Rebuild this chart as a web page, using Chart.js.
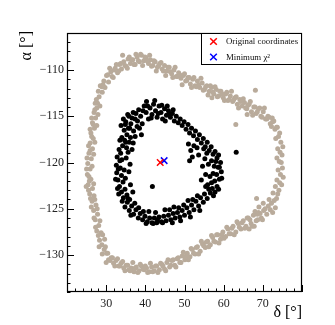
<!DOCTYPE html>
<html><head><meta charset="utf-8">
<script src="https://cdn.jsdelivr.net/npm/chart.js@4/dist/chart.umd.min.js"></script>
<style>html,body{margin:0;padding:0;background:#fff}canvas{display:block}</style>
</head><body>
<canvas id="c" width="335" height="325"></canvas>
<script>
// ---------- data ----------
const outerRing = [
[28.2,-112.9],[27.8,-113.6],[28.9,-111.8],[29.4,-111.2],[29.0,-112.4],[30.1,-110.6],[30.6,-111.3],[31.2,-110.2],[31.8,-110.8],[32.3,-109.8],
[32.9,-110.3],[33.4,-109.4],[33.9,-109.9],[34.5,-109.1],[35.1,-109.6],[35.6,-108.8],[36.2,-109.3],[36.8,-108.9],[37.4,-109.4],[37.9,-108.6],
[38.5,-109.1],[39.0,-108.4],[39.6,-109.0],[40.2,-108.7],[40.8,-109.3],[41.3,-108.9],[41.9,-109.5],[42.5,-109.1],[43.1,-109.7],[43.7,-109.3],
[44.3,-109.9],[44.9,-109.5],[45.5,-110.1],[46.1,-109.7],[46.7,-110.4],[47.3,-110.0],[47.9,-110.7],[48.5,-110.3],[49.1,-110.9],[49.7,-110.6],
[50.3,-111.2],[50.9,-110.8],[51.5,-111.5],[52.1,-111.0],[52.7,-111.7],[53.3,-111.2],[53.9,-111.9],[54.5,-111.4],[55.1,-112.1],[55.7,-111.7],
[56.3,-112.3],[56.9,-111.9],[57.5,-112.6],[58.1,-112.1],[58.7,-112.8],[59.3,-112.3],[59.9,-113.0],[60.5,-112.6],[61.1,-113.3],[61.7,-112.8],
[62.3,-113.4],[62.9,-113.0],[63.5,-113.7],[64.1,-113.2],[64.7,-113.9],[65.3,-113.5],[65.9,-114.2],[66.5,-113.7],[67.1,-114.5],[67.7,-114.0],
[68.3,-114.7],[68.9,-114.2],[69.5,-115.0],[70.1,-114.5],[70.7,-115.3],[71.3,-115.0],[71.9,-115.8],[72.5,-115.6],[73.1,-116.4],[73.7,-116.2],
[74.3,-116.8],[68.1,-112.2],[63.1,-115.9],[72.4,-115.2],[66.0,-114.8],[57.0,-113.0],
[28.5,-111.7],[29.2,-111.6],[29.7,-111.9],[30.4,-110.5],[30.9,-109.8],[31.5,-110.7],[32.1,-110.0],[32.6,-109.4],[33.2,-110.1],[33.7,-109.3],
[34.2,-108.4],[34.8,-109.5],[35.4,-109.8],[35.9,-108.6],[36.5,-108.9],[37.1,-109.4],[37.6,-108.3],[38.2,-109.0],[38.8,-108.3],[39.3,-109.5],
[39.9,-108.6],[40.5,-109.0],[41.1,-108.4],[41.6,-109.6],[42.2,-109.0],[42.8,-110.1],[43.4,-109.5],[44.0,-109.2],[44.6,-110.1],[45.2,-110.6],
[45.8,-109.7],[46.4,-110.2],[47.0,-110.8],[47.6,-109.7],[48.2,-110.7],[48.8,-110.5],[49.4,-111.6],[50.0,-110.4],[50.6,-111.1],[51.2,-110.8],
[51.8,-111.9],[52.4,-110.8],[53.0,-111.8],[53.6,-111.6],[54.2,-110.9],[54.8,-112.2],[55.4,-111.8],[56.0,-112.7],[56.6,-111.7],[57.2,-112.4],
[57.8,-111.8],[58.4,-112.9],[59.0,-112.3],[59.6,-112.6],[60.2,-113.3],[60.8,-112.4],[61.4,-113.2],[62.0,-112.3],[62.6,-113.2],[63.2,-112.9],
[63.8,-114.1],[64.4,-113.4],[65.0,-113.1],[65.6,-114.1],[66.2,-113.8],[66.8,-113.4],[67.4,-114.9],[68.0,-114.0],[68.6,-114.5],[69.2,-114.1],
[69.8,-115.1],[70.4,-114.1],[71.0,-115.3],[71.6,-115.1],[72.2,-116.1],[72.8,-115.5],[73.5,-116.2],
[73.3,-117.4],[74.6,-117.8],[73.8,-118.5],[74.9,-119.2],[74.2,-119.9],[75.0,-120.6],[74.5,-121.3],[73.6,-121.9],[74.8,-122.4],[74.1,-123.0],
[72.6,-123.3],[73.5,-123.9],[72.2,-124.4],[73.2,-124.9],[71.4,-124.7],[72.5,-125.4],
[74.0,-117.2],[75.1,-118.3],[74.4,-118.9],[73.6,-119.5],[74.7,-120.0],[73.9,-120.8],[75.2,-121.6],[74.3,-122.2],[73.2,-122.6],[73.8,-123.4],
[72.9,-124.1],[71.9,-125.1],[71.6,-124.0],
[71.0,-125.6],[70.2,-125.2],[69.6,-126.0],[68.9,-125.4],[68.3,-126.3],[67.6,-125.7],[67.0,-126.6],[66.3,-126.0],[65.7,-126.9],[65.0,-126.3],
[64.4,-127.2],[63.7,-126.6],[63.1,-127.5],[62.4,-126.9],[61.8,-127.7],[61.1,-127.2],[60.5,-128.0],[59.8,-127.5],[59.2,-128.3],[58.5,-127.8],
[57.9,-128.6],[57.2,-128.1],[56.6,-128.9],[55.9,-128.5],[55.3,-129.2],[54.6,-128.8],[54.0,-129.6],[53.3,-129.1],[52.7,-129.9],[52.0,-129.4],
[51.4,-130.2],[50.7,-129.8],[50.1,-130.5],[49.4,-130.1],[48.8,-130.8],[48.1,-130.4],[47.5,-131.1],[46.8,-130.6],[46.2,-131.3],[45.5,-130.8],
[44.9,-131.5],[44.2,-131.0],[43.6,-131.6],[42.9,-131.2],[42.3,-131.7],[41.6,-131.3],[41.0,-131.8],[40.3,-131.4],[39.7,-131.6],[39.0,-131.2],
[38.4,-131.7],[37.7,-131.3],[37.1,-131.8],[36.4,-131.4],[35.8,-131.6],[35.1,-131.1],[34.5,-131.4],[33.8,-130.9],[33.2,-131.2],[32.5,-130.6],
[31.9,-130.9],[31.3,-130.3],[30.6,-130.5],[30.1,-129.8],
[70.6,-125.0],[69.9,-126.2],[69.3,-125.5],[68.7,-126.2],[68.0,-125.3],[67.3,-126.9],[66.7,-126.2],[66.0,-126.0],[65.4,-127.1],[64.7,-126.5],
[64.0,-127.0],[63.4,-126.4],[62.7,-127.8],[62.1,-127.1],[61.4,-127.7],[60.8,-127.0],[60.1,-128.2],[59.5,-127.8],[58.8,-128.7],[58.2,-127.8],
[57.5,-128.5],[56.9,-127.9],[56.2,-129.1],[55.6,-128.6],[54.9,-129.0],[54.3,-128.5],[53.6,-129.9],[53.0,-129.2],[52.3,-129.8],[51.7,-129.3],
[51.0,-130.5],[50.4,-130.1],[49.7,-129.7],[49.1,-130.8],[48.4,-130.3],[47.8,-131.3],[47.1,-130.5],[46.5,-131.1],[45.8,-130.5],[45.2,-131.7],
[44.5,-131.2],[43.9,-130.9],[43.2,-131.9],[42.6,-131.2],[41.9,-131.8],[41.3,-130.9],[40.6,-131.9],[40.0,-131.2],[39.4,-131.5],[38.7,-131.0],
[38.1,-131.9],[37.4,-131.4],[36.8,-130.8],[36.1,-131.7],[35.5,-131.1],[34.8,-131.7],[34.2,-130.7],[33.5,-131.2],[32.9,-130.4],[32.2,-131.2],
[31.6,-130.3],[31.0,-130.6],[30.4,-129.8],[29.0,-129.9],[30.0,-130.8],[29.8,-129.1],
[68.4,-123.9],[69.0,-124.8],[68.6,-125.6],[70.1,-124.4],[67.8,-126.9],[66.5,-127.2],
[29.5,-129.4],[28.9,-128.9],[29.6,-128.3],[28.3,-128.4],[28.7,-127.6],[27.6,-127.4],[28.1,-126.8],[27.2,-126.2],[27.8,-125.6],[26.8,-125.2],
[27.4,-124.6],[26.4,-124.2],[26.9,-123.6],[25.8,-123.4],[26.5,-122.8],[25.4,-122.4],[26.1,-121.8],[25.2,-121.3],[25.9,-120.7],[25.3,-120.1],
[26.2,-119.6],[25.6,-119.0],[26.5,-118.5],[25.9,-117.9],[26.7,-117.4],[26.1,-116.8],[27.0,-116.3],[26.5,-115.7],[27.3,-115.2],[26.9,-114.6],
[27.6,-114.1],[27.2,-113.6],
[28.2,-129.1],[29.1,-127.8],[28.0,-127.9],[27.3,-127.0],[28.4,-126.3],[26.9,-126.0],[27.7,-125.0],[26.2,-124.8],[27.1,-124.0],[26.0,-123.9],
[25.5,-123.0],[26.8,-122.3],[24.9,-122.6],[25.7,-122.0],[25.0,-120.7],[26.4,-120.4],[25.6,-121.5],[25.1,-119.5],[25.9,-118.7],[26.8,-119.1],
[25.5,-118.2],[26.3,-117.2],[27.1,-117.8],[25.9,-116.4],[26.7,-115.9],[27.6,-116.0],[26.3,-115.2],[27.1,-114.3],[27.9,-114.8],[27.5,-113.2],
[28.4,-113.9],[28.0,-112.3]
];
const innerRing = [
[35.0,-115.6],[35.8,-115.0],[36.3,-115.8],[36.9,-114.6],[37.4,-115.3],[37.9,-116.1],[38.3,-114.3],[38.8,-115.0],[39.2,-115.8],[39.7,-113.9],
[40.2,-114.6],[40.3,-113.4],[40.8,-115.3],[41.2,-114.1],[41.7,-114.8],[42.1,-113.7],[42.6,-114.4],[43.0,-115.1],[43.5,-113.9],[44.0,-114.6],
[44.4,-115.3],[44.9,-114.2],[45.4,-114.9],[45.9,-114.4],[46.4,-115.1],[46.9,-114.7],[47.4,-115.5],[47.9,-115.0],[48.4,-115.7],[48.9,-115.3],
[49.4,-116.0],[49.9,-115.6],[50.4,-116.4],[50.9,-115.9],[51.3,-116.8],[51.8,-116.3],[52.3,-117.1],[52.8,-116.6],[53.3,-117.5],[53.8,-117.0],
[54.3,-117.9],[54.8,-117.4],[55.3,-118.3],[55.8,-117.8],[56.3,-118.7],[56.8,-118.3],[57.3,-119.1],[57.8,-118.8],[58.3,-119.5],[58.7,-119.2],
[59.2,-120.0],[58.6,-120.5],[59.4,-121.0],[58.2,-121.3],[58.9,-121.8],[57.7,-122.0],[58.3,-122.6],[57.1,-122.8],[55.2,-119.6],[54.6,-120.4],
[55.4,-121.3],[54.3,-121.9],[53.6,-119.2],[53.2,-118.4],[56.1,-120.2],[56.5,-121.5],[55.9,-122.4],[56.6,-123.3],[57.4,-123.6],
[55.8,-123.9],[55.1,-123.4],[54.8,-124.3],[54.1,-123.8],[53.6,-124.7],[52.9,-124.2],[52.4,-125.1],[51.8,-124.6],[51.2,-125.4],[50.6,-124.9],
[50.0,-125.7],[49.4,-125.2],[48.8,-125.9],[48.2,-125.4],[47.6,-126.0],[47.1,-125.5],[46.5,-126.2],[45.9,-125.7],
[45.3,-126.3],[44.7,-125.8],[44.1,-126.4],[43.5,-125.9],[42.9,-126.5],[42.3,-126.0],[41.7,-126.5],[41.1,-126.0],[40.5,-126.4],[39.9,-125.8],
[39.3,-126.2],[38.7,-125.5],[38.2,-126.0],[37.6,-125.1],[37.0,-125.6],[36.5,-124.7],[35.9,-125.2],[35.4,-124.3],[34.8,-124.8],[34.4,-123.8],
[33.9,-123.2],[34.8,-122.9],[33.4,-122.6],[34.3,-122.1],[33.0,-121.9],[33.9,-121.4],[32.7,-121.1],[33.6,-120.6],[32.6,-120.3],[33.5,-119.8],
[32.8,-119.4],[33.7,-119.0],[34.6,-120.8],[35.1,-119.5],[35.3,-123.5],[33.3,-118.6],[34.2,-118.2],[35.0,-117.8],[34.0,-117.3],[35.3,-117.0],
[34.6,-116.5],[35.7,-116.3],[34.9,-115.9],[36.2,-117.3],[36.6,-118.6],[35.6,-118.9],[34.4,-115.3],[35.5,-114.8],
[39.4,-114.4],[40.6,-113.9],[41.5,-115.2],[42.4,-113.3],[43.3,-114.7],[44.2,-113.8],[45.1,-115.5],[45.6,-113.9],[46.2,-114.7],[47.1,-114.3],
[37.6,-114.7],[38.0,-115.5],[36.6,-115.2],[36.0,-116.3],[37.0,-116.6],[38.5,-116.3],[39.0,-117.0],
[33.8,-116.0],[34.7,-117.6],[35.9,-117.8],[36.9,-117.9],[37.4,-117.2],[33.5,-117.6],[35.2,-118.4],
[32.4,-121.8],[33.2,-123.4],[34.1,-124.2],[35.8,-121.0],[36.2,-122.4],[35.6,-123.9],[36.8,-123.2],[32.9,-122.8],[34.0,-119.7],[33.1,-120.7],
[36.1,-120.2],[34.9,-121.7],
[51.0,-118.0],[51.6,-118.7],[52.0,-119.4],[51.3,-119.8],[52.4,-118.2],
[54.9,-118.5],[55.7,-119.0],[56.9,-119.8],[57.6,-120.4],[58.0,-119.9],[57.3,-121.2],[58.7,-122.9],[57.8,-123.2],[56.2,-122.9],[55.4,-122.6],
[56.9,-122.2],[58.9,-120.5],[59.5,-121.7],
[53.3,-123.6],[52.1,-124.0],[50.9,-124.1],[49.8,-124.6],[48.5,-124.9],[47.3,-124.8],[46.2,-125.1],[45.0,-125.1],[53.9,-125.2],[51.5,-125.9],
[49.0,-126.3],[46.9,-126.5],[44.4,-126.5],[43.1,-126.2],[42.0,-126.6],[40.2,-126.6],[39.5,-125.3],[40.9,-125.3],[42.6,-125.4],[38.3,-124.9],
[37.3,-124.4],[36.3,-125.7],[36.0,-124.0],
[41.8,-122.6],[63.2,-118.9]
];
const originalCoordinates = [[43.8,-120.0]];
const minimumChi2 = [[44.8,-119.8]];
const seriesLabels = ['Original coordinates','Minimum \u03c7\u00b2','Inner','Outer'];
const xTickValues = [30,40,50,60,70];
const yTickValues = [-130,-125,-120,-115,-110];
const xRange = [20,80];
const yRange = [-134,-106];
const xTitle = '\u03b4 [\u00b0]';
const yTitle = '\u03b1 [\u00b0]';

// ---------- chart ----------
const toXY = arr => arr.map(p => ({x:p[0], y:p[1]}));
const serif = "'Liberation Serif','DejaVu Serif',serif";

const decor = {
  id:'decor',
  afterDraw(chart){
    const {ctx, chartArea:a, scales:{x,y}} = chart;
    ctx.save();
    ctx.strokeStyle = '#000';
    ctx.lineWidth = 1;
    for (let v = xRange[0]; v <= xRange[1]; v += 2) {
      const px = Math.round(x.getPixelForValue(v)) + 0.5;
      const len = (v % 10 === 0) ? 7 : 3.5;
      ctx.beginPath(); ctx.moveTo(px, a.bottom); ctx.lineTo(px, a.bottom - len); ctx.stroke();
    }
    for (let v = yRange[0]; v <= yRange[1]; v += 1) {
      const py = Math.round(y.getPixelForValue(v)) + 0.5;
      const len = (v % 5 === 0) ? 7 : 3.5;
      ctx.beginPath(); ctx.moveTo(a.left, py); ctx.lineTo(a.left + len, py); ctx.stroke();
    }
    ctx.lineWidth = 1.2;
    ctx.strokeRect(a.left + 0.5, a.top + 0.5, a.right - a.left - 1, a.bottom - a.top - 1);
    ctx.fillStyle = '#000';
    ctx.font = '16px ' + serif;
    ctx.textAlign = 'right'; ctx.textBaseline = 'alphabetic';
    ctx.fillText(xTitle, a.right, 317);
    ctx.save();
    ctx.translate(31, a.top - 2);
    ctx.rotate(-Math.PI/2);
    ctx.textAlign = 'right';
    ctx.fillText(yTitle, 0, 0);
    ctx.restore();
    const lx = 201, ly = a.top, lw = a.right - 201, lh = 32;
    ctx.fillStyle = '#fff';
    ctx.fillRect(lx, ly, lw, lh);
    ctx.lineWidth = 1;
    ctx.strokeStyle = '#000';
    ctx.strokeRect(lx + 0.5, ly + 0.5, lw - 1, lh - 1);
    const entries = chart.data.datasets.filter(d => d.inLegend);
    entries.forEach((d, i) => {
      const cy = ly + 8.5 + i * 15.5;
      const cx = 213.5;
      const r = 3.3;
      ctx.strokeStyle = d.borderColor; ctx.lineWidth = 1.5;
      ctx.beginPath();
      ctx.moveTo(cx - r, cy - r); ctx.lineTo(cx + r, cy + r);
      ctx.moveTo(cx - r, cy + r); ctx.lineTo(cx + r, cy - r);
      ctx.stroke();
      ctx.fillStyle = '#111';
      ctx.font = '8.8px ' + serif;
      ctx.textAlign = 'left'; ctx.textBaseline = 'middle';
      ctx.fillText(d.label, 226, cy + 0.5);
    });
    ctx.restore();
  }
};

new Chart(document.getElementById('c'), {
  type:'scatter',
  data:{
    datasets:[
      {label:seriesLabels[0], data:toXY(originalCoordinates), pointStyle:'crossRot', pointRadius:4.6, borderColor:'#ff0000', backgroundColor:'#ff0000', pointBorderWidth:1.5, inLegend:true},
      {label:seriesLabels[1], data:toXY(minimumChi2), pointStyle:'crossRot', pointRadius:4.6, borderColor:'#0000ff', backgroundColor:'#0000ff', pointBorderWidth:1.5, inLegend:true},
      {label:seriesLabels[2], data:toXY(innerRing), pointRadius:2.5, pointBorderWidth:0, backgroundColor:'#000000', borderColor:'#000000'},
      {label:seriesLabels[3], data:toXY(outerRing), pointRadius:2.5, pointBorderWidth:0, backgroundColor:'#b9ab9b', borderColor:'#b9ab9b'}
    ]
  },
  options:{
    responsive:false, animation:false, devicePixelRatio:1,
    layout:{padding:{left:0, right:33, top:33, bottom:0}},
    plugins:{legend:{display:false}, tooltip:{enabled:false}},
    scales:{
      x:{type:'linear', min:xRange[0], max:xRange[1],
         afterBuildTicks:s => { s.ticks = xTickValues.map(v => ({value:v})); },
         afterFit:s => { s.height = 33; },
         grid:{display:false, drawTicks:false}, border:{display:false},
         ticks:{font:{family:serif, size:12}, color:'#222', padding:5, maxRotation:0, callback:v => String(v)}},
      y:{type:'linear', min:yRange[0], max:yRange[1],
         afterBuildTicks:s => { s.ticks = yTickValues.map(v => ({value:v})); },
         afterFit:s => { s.width = 67; },
         grid:{display:false, drawTicks:false}, border:{display:false},
         ticks:{font:{family:serif, size:12}, color:'#222', padding:3, callback:v => (v < 0 ? '\u2212' : '') + Math.abs(v)}}
    }
  },
  plugins:[decor]
});
</script>
</body></html>
